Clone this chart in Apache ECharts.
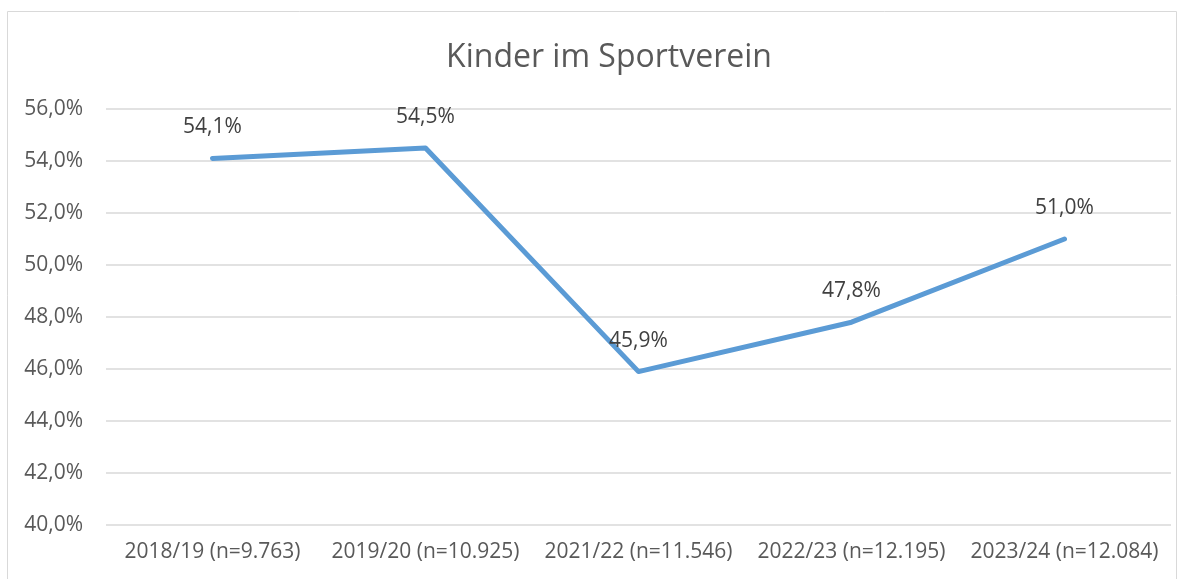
<!DOCTYPE html>
<html>
<head>
<meta charset="utf-8">
<script src="https://cdn.jsdelivr.net/npm/echarts@6/dist/echarts.min.js"></script>
<style>
  html, body { margin: 0; padding: 0; background: #fff; }
  #main { width: 1184px; height: 579px; }
</style>
</head>
<body>
<div id="main"></div>
<script>
// Daten
var categories = ['2018/19 (n=9.763)', '2019/20 (n=10.925)', '2021/22 (n=11.546)', '2022/23 (n=12.195)', '2023/24 (n=12.084)'];
var values = [54.1, 54.5, 45.9, 47.8, 51.0];
var yMin = 40, yMax = 56, yStep = 2;

function pct(v) {
  return v.toFixed(1).replace('.', ',') + '%';
}

var chart = echarts.init(document.getElementById('main'));
chart.setOption({
  animation: false,
  textStyle: { fontFamily: '"Open Sans", sans-serif' },
  title: {
    text: 'Kinder im Sportverein',
    left: 604,
    top: 37,
    textAlign: 'center',
    textStyle: { fontSize: 32, fontWeight: 'normal', color: '#595959', fontFamily: '"Open Sans", sans-serif' }
  },
  graphic: [{
    type: 'rect',
    shape: { x: 7.5, y: 11.5, width: 1169, height: 600 },
    style: { fill: 'none', stroke: '#d9d9d9', lineWidth: 1 },
    silent: true
  }],
  grid: { left: 106, right: 13, top: 109, bottom: 54, containLabel: false },
  xAxis: {
    type: 'category',
    data: categories,
    axisLine: { show: false },
    axisTick: { show: false },
    axisLabel: { color: '#595959', fontSize: 21, margin: 17, interval: 0 }
  },
  yAxis: {
    type: 'value',
    min: yMin,
    max: yMax,
    interval: yStep,
    axisLine: { show: false },
    axisTick: { show: false },
    axisLabel: { color: '#595959', fontSize: 21, margin: 23, formatter: function (v) { return pct(v); } },
    splitLine: { lineStyle: { color: '#d9d9d9', width: 1.5 } }
  },
  series: [{
    type: 'line',
    data: values,
    symbol: 'circle',
    symbolSize: 3,
    showSymbol: true,
    itemStyle: { color: '#5b9bd5' },
    lineStyle: { color: '#5b9bd5', width: 5, cap: 'round', join: 'round' },
    label: {
      show: true,
      position: 'top',
      distance: 19,
      color: '#404040',
      fontSize: 21,
      formatter: function (p) { return pct(p.value); }
    }
  }]
});
</script>
</body>
</html>
